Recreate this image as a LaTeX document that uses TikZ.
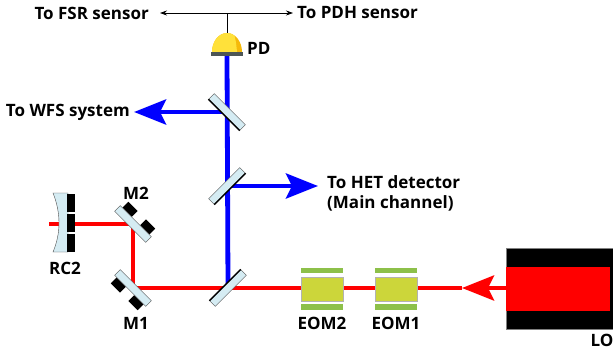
\documentclass[tikz,border=0pt]{standalone}
\usepackage{fontspec}
\setmainfont{Open Sans}
\usetikzlibrary{arrows.meta,calc}
\definecolor{beamred}{HTML}{FF0000}
\definecolor{beamblue}{HTML}{0000FF}
\definecolor{mirrorblue}{HTML}{D5ECF3}
\definecolor{eomyellow}{HTML}{CCD63A}
\definecolor{eomgreen}{HTML}{8DC04A}
\definecolor{pdyellow}{HTML}{FFE13A}
\definecolor{pdorange}{HTML}{F5B90A}
\definecolor{pdbase}{HTML}{4D5656}

\begin{document}
\begin{tikzpicture}[x=1pt,y=1pt,
    txt/.style={font=\bfseries\fontsize{17}{20}\selectfont, inner sep=1pt},
    redbeam/.style={draw=beamred, line width=4.5pt},
    bluebeam/.style={draw=beamblue, line width=4.8pt},
    bigtip/.style={-{Stealth[length=32pt,width=25pt,inset=6pt]}},
    smalltip/.style={{Stealth[length=7pt,width=5pt]}-{Stealth[length=7pt,width=5pt]}},
    mirror/.style={draw=gray!60!black, line width=0.4pt, fill=mirrorblue,
        minimum width=44pt, minimum height=8pt, inner sep=0pt},
    mount/.style={fill=black, minimum width=13pt, minimum height=8pt, inner sep=0pt},
    eom/.style={fill=eomyellow, draw=gray!60, line width=0.4pt,
        minimum width=42pt, minimum height=24pt, inner sep=0pt},
    eombar/.style={fill=eomgreen, minimum width=42pt, minimum height=5.5pt, inner sep=0pt}]
\useasboundingbox (0,0) rectangle (613,354);

% laser
\fill[black, draw=gray] (506,25) rectangle (613,106);
\fill[beamred] (506,43) rectangle (610,87);
\coordinate (lo) at (506,66);
\node[txt] (lolab) at (602,14) {LO};

% beam positions
\coordinate (bs3) at (228,66);
\coordinate (bs2) at (227,168);
\coordinate (bs1) at (227,242);
\coordinate (m1) at (133,66);
\coordinate (m2) at (133,130);
\coordinate (rc2) at (49,130);

% beams
\coordinate (redtip) at (462,66);
\draw[redbeam, bigtip] (lo) -- (redtip);
\draw[redbeam] (redtip) -- (m1) -- (m2) -- (rc2);
\coordinate (pdin) at (227,298);
\draw[bluebeam] (pdin) -- (bs3);
\coordinate (wfs) at (134,242);
\coordinate (het) at (318,168);
\draw[bluebeam, bigtip] (bs1) -- (wfs);
\draw[bluebeam, bigtip] (bs2) -- (het);

% mirrors on top of beams
\node[mirror, rotate=45] (bs3m) at (bs3) {};
\node[mirror, rotate=45] (bs2m) at (bs2) {};
\node[mirror, rotate=-45] (bs1m) at (bs1) {};
\node[mirror, rotate=-45] (m1m) at (m1) {};
\node[mirror, rotate=-45] (m2m) at (m2) {};
\draw[line width=1.4pt] (bs3m.north west) -- (bs3m.north east);
\draw[line width=1.4pt] (bs2m.south west) -- (bs2m.south east);
\draw[line width=1.4pt] (bs1m.south west) -- (bs1m.south east);
\node[mount, rotate=-45, anchor=south] at ($(m2m.north west)!0.22!(m2m.north east)$) {};
\node[mount, rotate=-45, anchor=south] at ($(m2m.north west)!0.78!(m2m.north east)$) {};
\node[mount, rotate=-45, anchor=north] at ($(m1m.south west)!0.22!(m1m.south east)$) {};
\node[mount, rotate=-45, anchor=north] at ($(m1m.south west)!0.78!(m1m.south east)$) {};
\node[txt] (m2lab) at (136,161) {M2};
\node[txt] (m1lab) at (136,31) {M1};

% curved mirror RC2
\fill[mirrorblue, draw=gray!60!black, line width=0.4pt]
  (53,161) .. controls (61,141) and (61,121) .. (53,102) -- (68,102) -- (68,161) -- cycle;
\fill[black] (67,142) rectangle (75,160);
\fill[black] (67,122) rectangle (75,140);
\fill[black] (67,102) rectangle (75,120);
\node[txt] (rc2lab) at (65,86) {RC2};

% modulators
\foreach \x/\n in {322/2,396/1}{
  \node[eom] (eom\n) at (\x,65) {};
  \node[eombar] at (\x,83.5) {};
  \node[eombar] at (\x,47) {};
  \node[txt] at (\x,31) {EOM\n};
}

% photodiode
\fill[pdbase] (211,298) rectangle (243,302);
\fill[pdorange] (212,302) arc[start angle=180, end angle=0, x radius=15, y radius=19] -- cycle;
\fill[pdyellow] (212,302) arc[start angle=180, end angle=60, x radius=15, y radius=19]
  .. controls (236,312) .. (237,302) -- cycle;
\node[txt, anchor=west] (pdlab) at (246,306) {PD};

% signal outputs
\coordinate (pdtop) at (227,321);
\coordinate (split) at (227,341);
\coordinate (fsrtip) at (160,341);
\coordinate (pdhtip) at (293,341);
\node[txt, anchor=east] (fsr) at (150,341) {To FSR sensor};
\node[txt, anchor=west] (pdh) at (296,341) {To PDH sensor};
\draw[line width=0.8pt] (pdtop) -- (split);
\draw[line width=0.8pt, smalltip] (fsrtip) -- (pdhtip);
\node[txt, anchor=east] (wfslab) at (131,242) {To WFS system};
\node[txt, anchor=west, align=left] (hetlab) at (326,161) {To HET detector\\(Main channel)};
\end{tikzpicture}
\end{document}
